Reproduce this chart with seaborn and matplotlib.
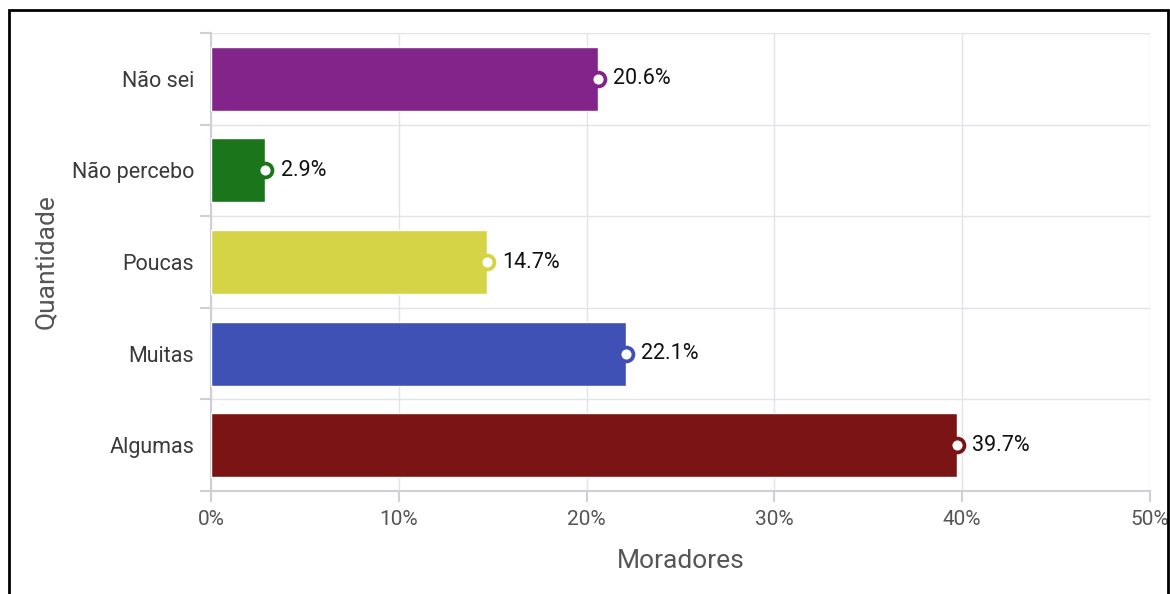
import matplotlib
matplotlib.use("Agg")
import matplotlib.pyplot as plt
import matplotlib.patches as mpatches
import seaborn as sns
import pandas as pd
import numpy as np

categories = ["Não sei", "Não percebo", "Poucas", "Muitas", "Algumas"]
values = [20.6, 2.9, 14.7, 22.1, 39.7]
colors = ["#82248A", "#1B751B", "#D4D446", "#3F51B5", "#7B1515"]
x_ticks = [0, 10, 20, 30, 40, 50]
x_ticklabels = ["0%", "10%", "20%", "30%", "40%", "50%"]

sns.set_theme(style="white")
plt.rcParams["font.family"] = ["Roboto", "DejaVu Sans"]

df = pd.DataFrame({"cat": categories, "val": values})

fig = plt.figure(figsize=(11.7, 5.94), dpi=100)
ax = fig.add_axes([211 / 1170, 1 - 491 / 594, (1150 - 211) / 1170, (491 - 33) / 594])

sns.barplot(data=df, x="val", y="cat", hue="cat", palette=colors, order=categories,
            hue_order=categories, orient="h", width=0.7, legend=False, ax=ax,
            saturation=1, zorder=3)

for i, (v, c) in enumerate(zip(values, colors)):
    ax.scatter([v], [i], s=100, facecolor="white", edgecolor=c, linewidth=2.7, zorder=5)
    ax.annotate(f"{v}%", (v, i), xytext=(11, 0), textcoords="offset points",
                va="center", ha="left", fontsize=15.5, color="#111111", zorder=6)

ax.set_xlim(0, 50)
ax.set_ylim(len(categories) - 0.5, -0.5)
ax.set_xticks(x_ticks)
ax.set_xticklabels(x_ticklabels)
ax.set_yticks(range(len(categories)))
ax.set_yticks(np.arange(-0.5, len(categories), 1), minor=True)

ax.grid(True, axis="x", color="#E3E3EA", linewidth=1, zorder=0)
ax.grid(True, axis="y", which="minor", color="#E3E3EA", linewidth=1, zorder=0)
ax.set_axisbelow(True)

for s in ["top", "right"]:
    ax.spines[s].set_visible(False)
for s in ["left", "bottom"]:
    ax.spines[s].set_visible(True)
    ax.spines[s].set_color("#CFCFD8")
    ax.spines[s].set_linewidth(1.5)

ax.tick_params(axis="x", which="major", direction="out", length=8, width=1.5,
               color="#CFCFD8", labelsize=15, labelcolor="#555555", pad=6, bottom=True)
ax.tick_params(axis="y", which="major", length=0, labelsize=15.5, labelcolor="#3A3A3A", pad=12)
ax.tick_params(axis="y", which="minor", direction="out", length=8, width=1.5,
               color="#CFCFD8", left=True)

ax.set_xlabel("Moradores", fontsize=19, color="#555555", labelpad=14)
ax.set_ylabel("Quantidade", fontsize=19, color="#555555", labelpad=10)

frame = mpatches.Rectangle((9 / 1170, -0.1), (1168 - 9) / 1170, 0.1 + (594 - 10) / 594,
                           transform=fig.transFigure, fill=False, edgecolor="black",
                           linewidth=2, zorder=10)
fig.patches.append(frame)

fig.savefig("out.png", dpi=100)
